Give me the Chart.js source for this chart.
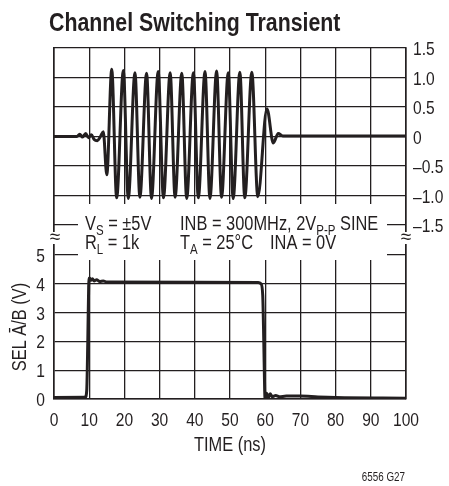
<!DOCTYPE html>
<html>
<head>
<meta charset="utf-8">
<script src="https://cdn.jsdelivr.net/npm/chart.js@4.4.0/dist/chart.umd.min.js"></script>
<style>
  html, body { margin: 0; padding: 0; background: #fff; }
</style>
</head>
<body>
<canvas id="transiente" width="449" height="486"></canvas>
<script>
// top trace: output while switching (V), right axis
const sigTime = [0, 6.5, 7.3, 8.1, 9.0, 9.8, 10.6, 11.4, 12.3, 13.2, 14.0, 15.0,
  16.4, 17.8, 19.7, 21.1, 23.0, 24.4, 26.3, 27.7, 29.6, 31.1, 33.0, 34.4, 36.3, 37.7,
  39.6, 41.0, 42.9, 44.3, 46.2, 47.6, 49.5, 50.9, 52.8, 54.2, 56.2, 57.9,
  60.5, 62.3, 63.7, 65.0, 100];
const sigVolts = [0, 0, 0.04, -0.01, 0.05, -0.02, 0.03, -0.05, -0.07, 0.0, 0.08, -0.65,
  1.14, -1.04, 1.12, -1.05, 1.08, -1.03, 1.07, -1.05, 1.1, -1.04, 1.08, -1.03, 1.07, -1.05,
  1.08, -1.04, 1.1, -1.05, 1.11, -1.03, 1.08, -1.05, 1.09, -1.04, 1.09, -1.02,
  0.47, -0.11, 0.05, 0.01, 0.01];

// bottom trace: SEL A/B control (V), left axis
const selTime = [0, 8.9, 9.3, 9.6, 9.85, 10.1, 10.5, 10.9, 11.4, 12.1, 13.0, 14.0, 15.0,
  58.0, 58.8, 59.3, 59.6, 59.85, 60.05, 60.4, 60.9, 61.4, 62.0, 63.0, 64.0, 66.0, 70.0, 75.0, 80.0, 100];
const selVolts = [0.05, 0.06, 0.3, 2.0, 3.9, 4.2, 4.12, 4.18, 4.1, 4.14, 4.08, 4.1, 4.06,
  4.05, 4.0, 3.6, 2.0, 0.3, -0.1, 0.2, 0.05, 0.18, 0.08, 0.12, 0.08, 0.1, 0.1, 0.07, 0.05, 0.03];

const timeTicks = [0, 10, 20, 30, 40, 50, 60, 70, 80, 90, 100];
const sigTicks = [-1.5, -1, -0.5, 0, 0.5, 1, 1.5];
const selTicks = [0, 1, 2, 3, 4, 5];

// no condensed face installed, so Liberation Sans gets squeezed sideways
const FONTE = "'Liberation Sans', Arial, sans-serif";
const SQUEEZE = 0.82;
const INK = '#231f20';

function toPoints(xs, ys) {
  return xs.map((x, i) => ({ x: x, y: ys[i] }));
}

function sigLabel(v) {
  if (v === 0) return '0';
  if (v < 0) return '\u2013' + Math.abs(v).toFixed(1);
  return v.toFixed(1);
}

function narrowWidth(ctx, text, size, bold) {
  ctx.font = (bold ? 'bold ' : '') + size + 'px ' + FONTE;
  return ctx.measureText(text).width * SQUEEZE;
}

function narrow(ctx, text, x, y, size, align, bold) {
  const w = narrowWidth(ctx, text, size, bold);
  const x0 = align === 'right' ? x - w : align === 'center' ? x - w / 2 : x;
  ctx.save();
  ctx.translate(x0, y);
  ctx.scale(SQUEEZE, 1);
  ctx.textAlign = 'left';
  ctx.textBaseline = 'alphabetic';
  ctx.fillText(text, 0, 0);
  ctx.restore();
  return w;
}

function drawRuns(ctx, x, y, runs) {
  runs.forEach(r => {
    x += narrow(ctx, r.t, x, y + (r.sub ? 5 : 0), r.sub ? 14 : 20, 'left');
  });
}

const extras = {
  id: 'extras',
  afterDraw(chart) {
    const ctx = chart.ctx;
    const a = chart.chartArea;
    const sx = chart.scales.x, sSel = chart.scales.ySel, sSig = chart.scales.ySig;
    ctx.save();
    ctx.fillStyle = INK;

    narrow(ctx, 'Channel Switching Transient', 49, 30.5, 26, 'left', true);

    // white box for the test conditions, cuts the grid between panels
    ctx.fillStyle = '#fff';
    ctx.fillRect(a.left + 24, 204, a.right - a.left - 43, 56);
    // breaks in the side borders
    ctx.fillRect(a.left - 5, 232, 10, 12);
    ctx.fillRect(a.right - 5, 232, 10, 12);
    ctx.fillStyle = INK;

    drawRuns(ctx, 85, 229.5, [{ t: 'V' }, { t: 'S', sub: true }, { t: ' = \u00b15V' }]);
    drawRuns(ctx, 180, 229.5, [{ t: 'INB = 300MHz, 2V' }, { t: 'P-P', sub: true }, { t: ' SINE' }]);
    drawRuns(ctx, 85, 248.5, [{ t: 'R' }, { t: 'L', sub: true }, { t: ' = 1k' }]);
    drawRuns(ctx, 180, 248.5, [{ t: 'T' }, { t: 'A', sub: true }, { t: ' = 25\u00b0C' }]);
    drawRuns(ctx, 270, 248.5, [{ t: 'INA = 0V' }]);

    ctx.font = '19px ' + FONTE;
    ctx.textAlign = 'center';
    ctx.textBaseline = 'middle';
    ctx.fillText('\u2248', a.left + 1, 238);
    ctx.fillText('\u2248', a.right, 238);

    // tick labels, placed by the chart's own scales
    timeTicks.forEach(v => narrow(ctx, String(v), sx.getPixelForValue(v), 425.5, 19, 'center'));
    selTicks.forEach(v => narrow(ctx, String(v), a.left - 9, sSel.getPixelForValue(v) + 7, 19, 'right'));
    sigTicks.forEach(v => narrow(ctx, sigLabel(v), a.right + 7, sSig.getPixelForValue(v) + 7, 19, 'left'));

    narrow(ctx, 'TIME (ns)', (a.left + a.right) / 2, 450.5, 20, 'center');

    // left axis title, centred on the lower panel
    ctx.save();
    ctx.translate(25.5, (sSel.getPixelForValue(0) + sSel.getPixelForValue(5)) / 2);
    ctx.rotate(-Math.PI / 2);
    narrow(ctx, 'SEL \u0100/B (V)', 0, 0, 20, 'center');
    ctx.restore();

    narrow(ctx, '6556 G27', 405, 481, 12, 'right');
    ctx.restore();
  }
};

const gridStyle = { color: INK, lineWidth: 1.3, drawTicks: false };

new Chart(document.getElementById('transiente'), {
  type: 'line',
  data: {
    datasets: [
      { label: 'OUT', data: toPoints(sigTime, sigVolts), yAxisID: 'ySig',
        borderColor: INK, borderWidth: 3, pointRadius: 0, cubicInterpolationMode: 'monotone' },
      { label: 'SEL', data: toPoints(selTime, selVolts), yAxisID: 'ySel',
        borderColor: INK, borderWidth: 3, pointRadius: 0, cubicInterpolationMode: 'monotone' }
    ]
  },
  options: {
    responsive: false,
    animation: false,
    layout: { padding: { top: 48, left: 0, right: 0, bottom: 0 } },
    plugins: { legend: { display: false }, tooltip: { enabled: false }, title: { display: false } },
    scales: {
      x: {
        type: 'linear', min: 0, max: 100,
        afterBuildTicks: s => { s.ticks = timeTicks.map(v => ({ value: v })); },
        afterFit: s => { s.height = 87; },
        grid: gridStyle,
        border: { color: INK, width: 1.6 },
        ticks: { display: false }
      },
      ySel: {
        type: 'linear', position: 'left', min: 0, max: 12.19,
        afterBuildTicks: s => { s.ticks = selTicks.map(v => ({ value: v })); },
        afterFit: s => { s.width = 54; },
        grid: gridStyle,
        border: { color: INK, width: 1.6 },
        ticks: { display: false }
      },
      ySig: {
        type: 'linear', position: 'right', min: -4.449, max: 1.5,
        afterBuildTicks: s => { s.ticks = sigTicks.map(v => ({ value: v })); },
        afterFit: s => { s.width = 43; },
        grid: gridStyle,
        border: { color: INK, width: 1.6 },
        ticks: { display: false }
      }
    }
  },
  plugins: [extras]
});
</script>
</body>
</html>
